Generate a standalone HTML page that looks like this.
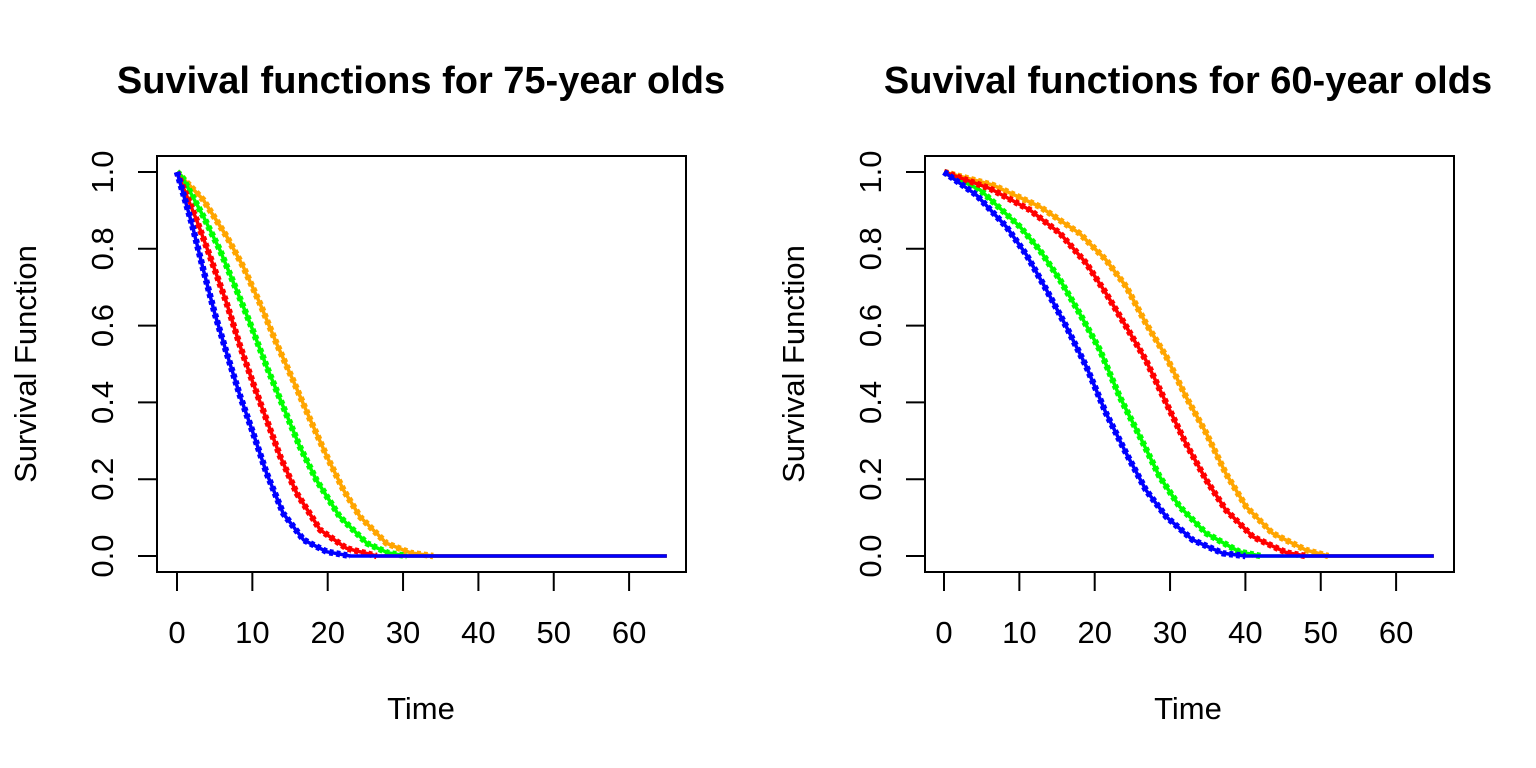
<!DOCTYPE html>
<html><head><meta charset="utf-8"><style>
html,body{margin:0;padding:0;background:#fff;}
svg{display:block;font-family:"Liberation Sans",Arial,sans-serif;}
</style></head><body>
<svg id="chart" width="1536" height="768" viewBox="0 0 1536 768"></svg>
<script>
const xTicks = [0,10,20,30,40,50,60];
const yTicks = [0,0.2,0.4,0.6,0.8,1.0];
const yTickLabels = ["0.0","0.2","0.4","0.6","0.8","1.0"];
const seriesNames = ["orange","green","red","blue"];
const seriesColors = ["#FFA500","#00FF00","#FF0000","#0000FF"];
const titles = ["Suvival functions for 75-year olds","Suvival functions for 60-year olds"];

// Left panel (75-year olds): time and survival arrays
const L_orange_t = [0,3.5,6.6,8.8,11,13.2,15.4,17.7,19.9,22.1,24.3,27.8,31,34,65];
const L_orange_s = [1,0.927,0.832,0.753,0.658,0.554,0.458,0.354,0.259,0.172,0.102,0.033,0.008,0,0];
const L_green_t = [0,0.6,3.5,5.7,7.9,9.7,11.9,14.1,16.3,18.5,21.6,25.2,28,30.5,65];
const L_green_s = [1,0.99,0.884,0.797,0.693,0.606,0.493,0.389,0.285,0.198,0.102,0.033,0.008,0,0];
const L_red_t = [0,0.6,2.6,4.4,6.6,8.4,10.1,11.9,13.7,15.9,19,22.5,26.5,65];
const L_red_s = [1,0.971,0.875,0.779,0.658,0.545,0.45,0.354,0.259,0.163,0.068,0.02,0,0];
const L_blue_t = [0,1.95,3.5,5,6.6,8.4,10.1,11.9,14.1,16.8,19.9,23,65];
const L_blue_s = [1,0.867,0.745,0.632,0.528,0.415,0.32,0.215,0.111,0.042,0.011,0,0];

// Right panel (60-year olds)
const R_orange_t = [0,6.5,12.7,18,21.5,24.2,26.8,29.5,32.1,34.8,37.4,40.1,43.6,48,51,65];
const R_orange_s = [1,0.966,0.91,0.84,0.771,0.701,0.606,0.519,0.415,0.32,0.215,0.128,0.059,0.016,0,0];
const R_red_t = [0,6.1,11.4,15.4,18.9,21.5,24.2,26.8,29.5,32.1,34.8,37.4,41,45.4,48,65];
const R_red_s = [1,0.957,0.901,0.84,0.762,0.684,0.597,0.51,0.398,0.293,0.198,0.12,0.05,0.009,0,0];
const R_green_t = [0,4.8,10.1,12.7,15.4,18,20.7,23.3,26,28.6,31.3,34.8,39.2,42,65];
const R_green_s = [1,0.953,0.857,0.797,0.719,0.632,0.536,0.415,0.311,0.207,0.128,0.059,0.011,0,0];
const R_blue_t = [0,4.3,8.3,10.95,13.6,16.25,18.9,21.5,24.2,26.8,29.5,33,37,40,65];
const R_blue_s = [1,0.94,0.857,0.784,0.693,0.597,0.493,0.372,0.267,0.172,0.102,0.042,0.007,0,0];

const panels = [
  {box:[157,156,686,572], x0:177, tt:421, cx:421, series:[[L_orange_t,L_orange_s],[L_green_t,L_green_s],[L_red_t,L_red_s],[L_blue_t,L_blue_s]], ylab:25},
  {box:[925,156,1454,572], x0:944, tt:1188, cx:1188, series:[[R_orange_t,R_orange_s],[R_green_t,R_green_s],[R_red_t,R_red_s],[R_blue_t,R_blue_s]], ylab:793}
];
const svg = document.getElementById('chart');
const NS = "http://www.w3.org/2000/svg";
function mk(tag, attrs, parent){ const e=document.createElementNS(NS,tag); for(const k in attrs) e.setAttribute(k,attrs[k]); (parent||svg).appendChild(e); return e; }

panels.forEach((p,pi)=>{
  const g = mk('g',{});
  
  
  const xs = t => p.x0 + t*7.535;
  const ys = s => 556 - s*384;
  const [l,t,r,b] = p.box;
  const title = mk('text',{x:p.tt,y:93,'text-anchor':'middle','font-size':'38','font-weight':'bold',fill:'#000'},g);
  title.textContent = titles[pi];
  
  
  p.series.forEach((sd,si)=>{
    const pts = sd[0].map((tv,i)=>xs(tv).toFixed(1)+','+ys(sd[1][i]).toFixed(1));
    const zi = sd[1].indexOf(0);
    const band = mk('polyline',{points:pts.slice(0,zi+1).join(' '),fill:'none',stroke:seriesColors[si],'stroke-width':'6.5','stroke-dasharray':'4 3','stroke-linejoin':'round'},g);
    
    
    const line = mk('polyline',{points:pts.join(' '),fill:'none',stroke:seriesColors[si],'stroke-width':'3.5','stroke-linejoin':'round'},g);
    
    
  });
  const box = mk('rect',{x:l,y:t,width:r-l,height:b-t,fill:'none',stroke:'#000','stroke-width':'2'},g);
  
  
  const xa = mk('line',{x1:xs(xTicks[0]),x2:xs(xTicks[xTicks.length-1]),y1:572,y2:572,stroke:'#000','stroke-width':'2'},g);
  
  
  xTicks.forEach(v=>{
    mk('line',{x1:xs(v),x2:xs(v),y1:572,y2:591,stroke:'#000','stroke-width':'2'},g);
    const tx = mk('text',{x:xs(v),y:643,'text-anchor':'middle','font-size':'31',fill:'#000'},g);
    tx.textContent = v;
    
    
  });
  yTicks.forEach((v,i)=>{
    mk('line',{x1:l-19,x2:l,y1:ys(v),y2:ys(v),stroke:'#000','stroke-width':'2'},g);
    const cx = l-55, cy = ys(v);
    const ty = mk('text',{x:cx+11,y:cy,'text-anchor':'middle','font-size':'31',fill:'#000',transform:'rotate(-90 '+(cx+11)+' '+cy+')'},g);
    ty.textContent = yTickLabels[i];
    
    
  });
  const xl = mk('text',{x:p.cx,y:719,'text-anchor':'middle','font-size':'31',fill:'#000'},g);
  xl.textContent = 'Time';
  
  
  const yl = mk('text',{x:p.ylab+11,y:364,'text-anchor':'middle','font-size':'31',fill:'#000',transform:'rotate(-90 '+(p.ylab+11)+' 364)'},g);
  yl.textContent = 'Survival Function';
  
  
});
</script>
</body></html>
